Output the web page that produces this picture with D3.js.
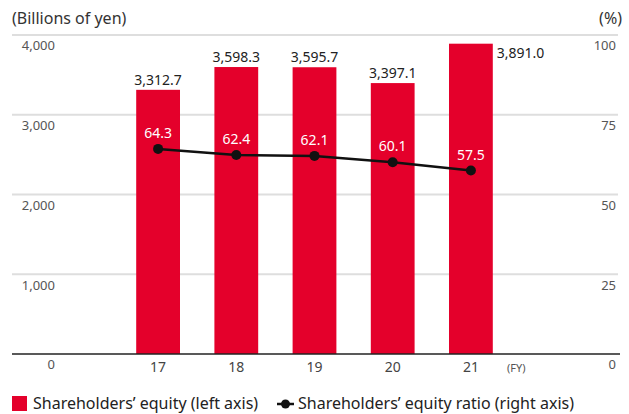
<!DOCTYPE html>
<html>
<head>
<meta charset="utf-8">
<script src="https://cdn.jsdelivr.net/npm/d3@7"></script>
<style>
  body { margin: 0; background: #fff; }
  svg { display: block; font-family: "Noto Sans", sans-serif; }
</style>
</head>
<body>
<svg id="chart" width="629" height="414"></svg>
<script>
// data
let years = ["17", "18", "19", "20", "21"];
let equity = [3312.7, 3598.3, 3595.7, 3397.1, 3891.0];
let equityRatio = [64.3, 62.4, 62.1, 60.1, 57.5];
let leftTicks = [0, 1000, 2000, 3000, 4000];
let rightTicks = [0, 25, 50, 75, 100];

let red = "#e4002b";

let svg = d3.select("#chart");

// scales
let x = d3.scaleBand()
    .domain(years)
    .range([119, 510])
    .paddingInner(0.44)
    .paddingOuter(0.22);

let yLeft = d3.scaleLinear()
    .domain([0, 4000])
    .range([354, 35]);

let yRight = d3.scaleLinear()
    .domain([0, 100])
    .range([354, 35]);

// grid lines
svg.append("g")
    .selectAll("line")
    .data(leftTicks.filter(d => d > 0))
    .enter().append("line")
    .attr("x1", 12)
    .attr("x2", 618)
    .attr("y1", d => yLeft(d))
    .attr("y2", d => yLeft(d))
    .attr("stroke", "#dedede")
    .attr("stroke-width", 2);

// left axis labels (hang under the grid line)
let leftAxis = svg.append("g")
    .attr("transform", "translate(55,0)")
    .call(d3.axisLeft(yLeft).tickValues(leftTicks).tickSize(0).tickPadding(0)
        .tickFormat(d3.format(",")));
leftAxis.select(".domain").remove();
leftAxis.selectAll("text")
    .attr("dy", "1.15em")
    .style("font-size", "13px")
    .style("font-family", "'Noto Sans', sans-serif")
    .attr("fill", "#555");

// right axis labels
let rightAxis = svg.append("g")
    .attr("transform", "translate(616,0)")
    .call(d3.axisLeft(yRight).tickValues(rightTicks).tickSize(0).tickPadding(0));
rightAxis.select(".domain").remove();
rightAxis.selectAll("text")
    .attr("dy", "1.15em")
    .style("font-size", "13px")
    .style("font-family", "'Noto Sans', sans-serif")
    .attr("fill", "#555");

// bars
svg.append("g")
    .selectAll("rect")
    .data(equity)
    .enter().append("rect")
    .attr("x", (d, i) => x(years[i]))
    .attr("y", d => yLeft(d))
    .attr("width", x.bandwidth())
    .attr("height", d => yLeft(0) - yLeft(d))
    .attr("fill", red);

// bar values, last one sits to the right of its bar
svg.append("g")
    .selectAll("text")
    .data(equity)
    .enter().append("text")
    .attr("x", (d, i) => i === equity.length - 1 ? x(years[i]) + x.bandwidth() + 4 : x(years[i]) + x.bandwidth() / 2)
    .attr("y", (d, i) => i === equity.length - 1 ? yLeft(d) + 14 : yLeft(d) - 5)
    .attr("text-anchor", (d, i) => i === equity.length - 1 ? "start" : "middle")
    .style("font-size", "14px")
    .attr("fill", "#222")
    .text(d => d3.format(",.1f")(d));

// baseline
svg.append("line")
    .attr("x1", 12)
    .attr("x2", 620)
    .attr("y1", yLeft(0))
    .attr("y2", yLeft(0))
    .attr("stroke", "#222")
    .attr("stroke-width", 1.5);

// x labels
svg.append("g")
    .selectAll("text")
    .data(years)
    .enter().append("text")
    .attr("x", d => x(d) + x.bandwidth() / 2)
    .attr("y", 372)
    .attr("text-anchor", "middle")
    .style("font-size", "14px")
    .attr("fill", "#444")
    .text(d => d);

svg.append("text")
    .attr("x", 507)
    .attr("y", 372)
    .style("font-size", "11px")
    .attr("fill", "#555")
    .text("(FY)");

// ratio line
let line = d3.line()
    .x((d, i) => x(years[i]) + x.bandwidth() / 2)
    .y(d => yRight(d));

svg.append("path")
    .datum(equityRatio)
    .attr("d", line)
    .attr("fill", "none")
    .attr("stroke", "#111")
    .attr("stroke-width", 2.5);

svg.append("g")
    .selectAll("circle")
    .data(equityRatio)
    .enter().append("circle")
    .attr("cx", (d, i) => x(years[i]) + x.bandwidth() / 2)
    .attr("cy", d => yRight(d))
    .attr("r", 5)
    .attr("fill", "#111");

svg.append("g")
    .selectAll("text")
    .data(equityRatio)
    .enter().append("text")
    .attr("x", (d, i) => x(years[i]) + x.bandwidth() / 2)
    .attr("y", d => yRight(d) - 11)
    .attr("text-anchor", "middle")
    .style("font-size", "14px")
    .attr("fill", "#fff")
    .text(d => d3.format(".1f")(d));

// axis titles
svg.append("text")
    .attr("x", 12)
    .attr("y", 24)
    .style("font-size", "16px")
    .attr("fill", "#333")
    .text("(Billions of yen)");

svg.append("text")
    .attr("x", 622)
    .attr("y", 24)
    .attr("text-anchor", "end")
    .style("font-size", "16px")
    .attr("fill", "#333")
    .text("(%)");

// legend
let legend = svg.append("g");
legend.append("rect")
    .attr("x", 12)
    .attr("y", 396)
    .attr("width", 15)
    .attr("height", 15)
    .attr("fill", red);
legend.append("text")
    .attr("x", 33)
    .attr("y", 409)
    .style("font-size", "16px")
    .attr("fill", "#222")
    .text("Shareholders\u2019 equity (left axis)");
legend.append("line")
    .attr("x1", 277)
    .attr("x2", 294)
    .attr("y1", 404)
    .attr("y2", 404)
    .attr("stroke", "#111")
    .attr("stroke-width", 2.5);
legend.append("circle")
    .attr("cx", 285.5)
    .attr("cy", 404)
    .attr("r", 4.5)
    .attr("fill", "#111");
legend.append("text")
    .attr("x", 298)
    .attr("y", 409)
    .style("font-size", "16px")
    .attr("fill", "#222")
    .text("Shareholders\u2019 equity ratio (right axis)");
</script>
</body>
</html>
